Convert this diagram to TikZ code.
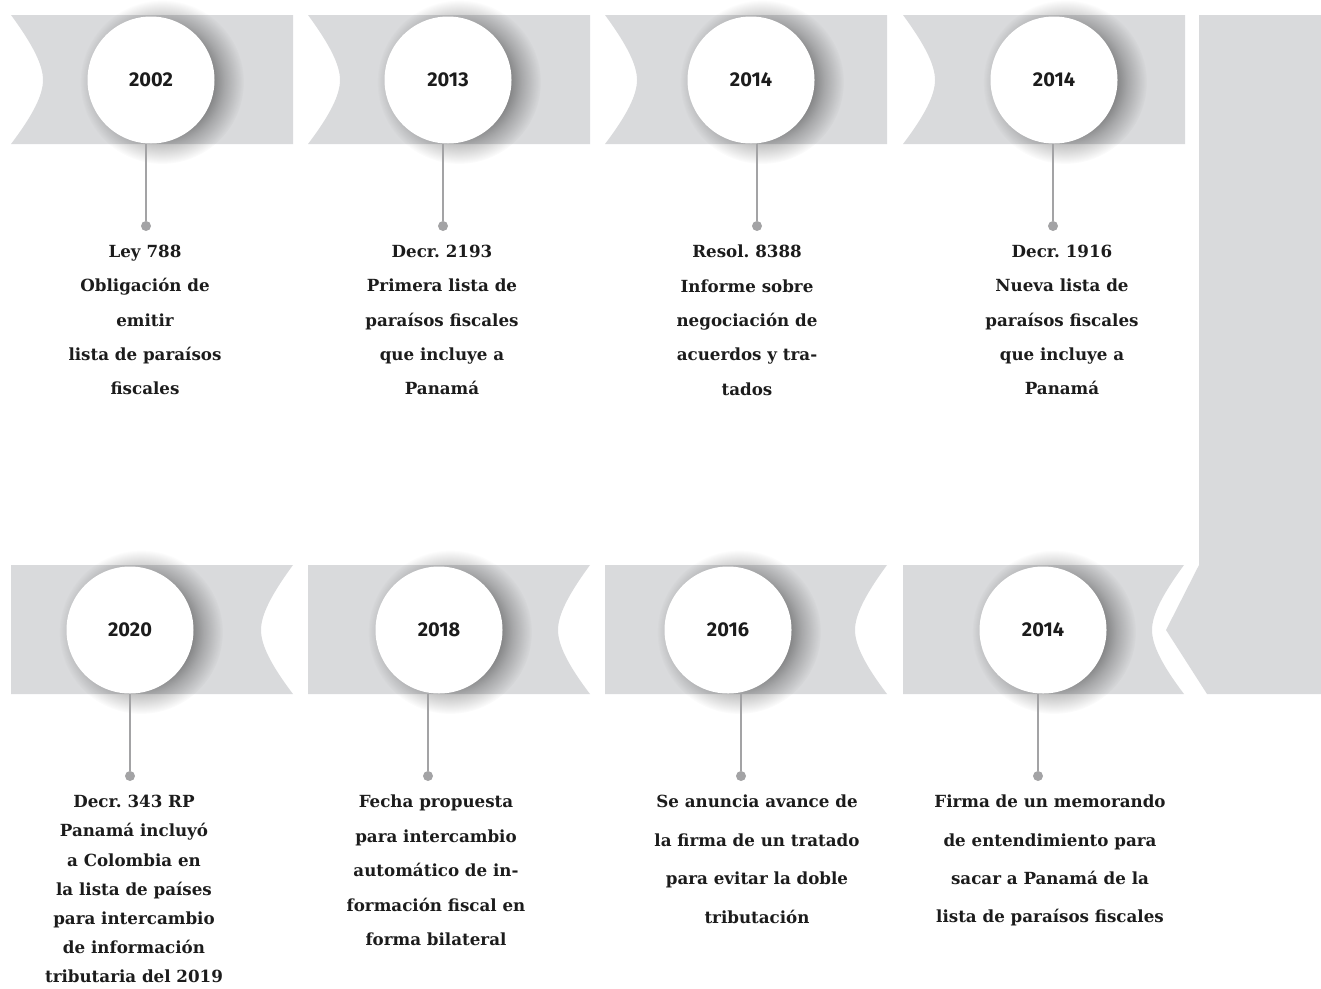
\documentclass[tikz,border=0pt]{standalone}
\usepackage{fontspec}
\setmainfont{DejaVu Serif}
\newfontfamily\yearfont{Fira Sans}
\usetikzlibrary{fadings, positioning}
\definecolor{bandgray}{RGB}{217,218,220}
\definecolor{stemgray}{RGB}{163,163,165}
\definecolor{ink}{RGB}{28,28,28}

% soft halo behind the year discs
\pgfdeclareradialshading{haloshade}{\pgfpointorigin}{color(0bp)=(white); color(15bp)=(white); color(19bp)=(white!55!black); color(25bp)=(black); color(50bp)=(black)}
\pgfdeclarefading{halo}{\pgfuseshading{haloshade}}

\begin{document}
\begin{tikzpicture}[x=1pt, y=-1pt,
  band/.style={fill=bandgray},
  glow/.style={black, opacity=0.42, path fading=halo},
  year/.style={circle, fill=white, minimum size=127pt, inner sep=0pt, text=ink,
    font=\yearfont\bfseries\fontsize{20}{24}\selectfont},
  stem/.style={stemgray, line width=2pt},
  dot/.style={circle, fill=stemgray, minimum size=10pt, inner sep=0pt},
  note/.style={font=\bfseries\frenchspacing\fontsize{16.7}{#1}\selectfont, align=center, anchor=north, inner sep=0pt, text=ink}]
\useasboundingbox (0,0) rectangle (1321,988);

% top row
\path [band] (11,15) -- (293,15) -- (293,144) -- (11,144) .. controls (33,115) and (43,95) .. (43,80) .. controls (43,65) and (33,45) .. (11,15) -- cycle;
\path [band] (308,15) -- (590,15) -- (590,144) -- (308,144) .. controls (330,115) and (340,95) .. (340,80) .. controls (340,65) and (330,45) .. (308,15) -- cycle;
\path [band] (605,15) -- (887,15) -- (887,144) -- (605,144) .. controls (627,115) and (637,95) .. (637,80) .. controls (637,65) and (627,45) .. (605,15) -- cycle;
\path [band] (903,15) -- (1185,15) -- (1185,144) -- (903,144) .. controls (925,115) and (935,95) .. (935,80) .. controls (935,65) and (925,45) .. (903,15) -- cycle;

% turn
\path [band] (1199,15) -- (1321,15) -- (1321,694) -- (1207,694) -- (1166,630) -- (1199,565) -- cycle;

% bottom row
\path [band] (11,565) -- (293,565) .. controls (271,595) and (261,615) .. (261,630) .. controls (261,645) and (271,665) .. (293,694) -- (11,694) -- cycle;
\path [band] (308,565) -- (590,565) .. controls (568,595) and (558,615) .. (558,630) .. controls (558,645) and (568,665) .. (590,694) -- (308,694) -- cycle;
\path [band] (605,565) -- (887,565) .. controls (865,595) and (855,615) .. (855,630) .. controls (855,645) and (865,665) .. (887,694) -- (605,694) -- cycle;
\path [band] (903,565) -- (1184,565) .. controls (1162,595) and (1152,615) .. (1152,630) .. controls (1152,645) and (1162,665) .. (1184,694) -- (903,694) -- cycle;

% shadows
\fill [glow] (162,82) circle (82);
\fill [glow] (459,82) circle (82);
\fill [glow] (762,82) circle (82);
\fill [glow] (1065,82) circle (82);
\fill [glow] (141,632) circle (82);
\fill [glow] (450,632) circle (82);
\fill [glow] (739,632) circle (82);
\fill [glow] (1054,632) circle (82);

\node [year] (c1) at (151,80) {2002};
\node [year] (c2) at (448,80) {2013};
\node [year] (c3) at (751,80) {2014};
\node [year] (c4) at (1054,80) {2014};

\node [year] (c5) at (130,630) {2020};
\node [year] (c6) at (439,630) {2018};
\node [year] (c7) at (728,630) {2016};
\node [year] (c8) at (1043,630) {2014};

\node [dot] (d1) at (146,226) {};
\node [dot] (d2) at (443,226) {};
\node [dot] (d3) at (757,226) {};
\node [dot] (d4) at (1053,226) {};
\node [dot] (d5) at (130,776) {};
\node [dot] (d6) at (428,776) {};
\node [dot] (d7) at (741,776) {};
\node [dot] (d8) at (1038,776) {};

\draw [stem] (d1 |- c1.south) -- (d1);
\draw [stem] (d2 |- c2.south) -- (d2);
\draw [stem] (d3 |- c3.south) -- (d3);
\draw [stem] (d4 |- c4.south) -- (d4);
\draw [stem] (d5 |- c5.south) -- (d5);
\draw [stem] (d6 |- c6.south) -- (d6);
\draw [stem] (d7 |- c7.south) -- (d7);
\draw [stem] (d8 |- c8.south) -- (d8);

\node [note=34.3pt] (t1) at (145,245) {Ley 788\\Obligación de\\emitir\\lista de paraísos\\fiscales};
\node [note=34.3pt] (t2) at (442,245) {Decr. 2193\\Primera lista de\\paraísos fiscales\\que incluye a\\Panamá};
\node [note=34.3pt] (t3) at (747,245) {Resol. 8388\\Informe sobre\\negociación de\\acuerdos y tra-\\tados};
\node [note=34.3pt] (t4) at (1062,245) {Decr. 1916\\Nueva lista de\\paraísos fiscales\\que incluye a\\Panamá};

\node [note=29.2pt] (t5) at (134,795) {Decr. 343 RP\\Panamá incluyó\\a Colombia en\\la lista de países\\para intercambio\\de información\\tributaria del 2019};
\node [note=34.5pt] (t6) at (436,795) {Fecha propuesta\\para intercambio\\automático de in-\\formación fiscal en\\forma bilateral};
\node [note=38.5pt] (t7) at (757,795) {Se anuncia avance de\\la firma de un tratado\\para evitar la doble\\tributación};
\node [note=38.2pt] (t8) at (1050,795) {Firma de un memorando\\de entendimiento para\\sacar a Panamá de la\\lista de paraísos fiscales};
\end{tikzpicture}
\end{document}
